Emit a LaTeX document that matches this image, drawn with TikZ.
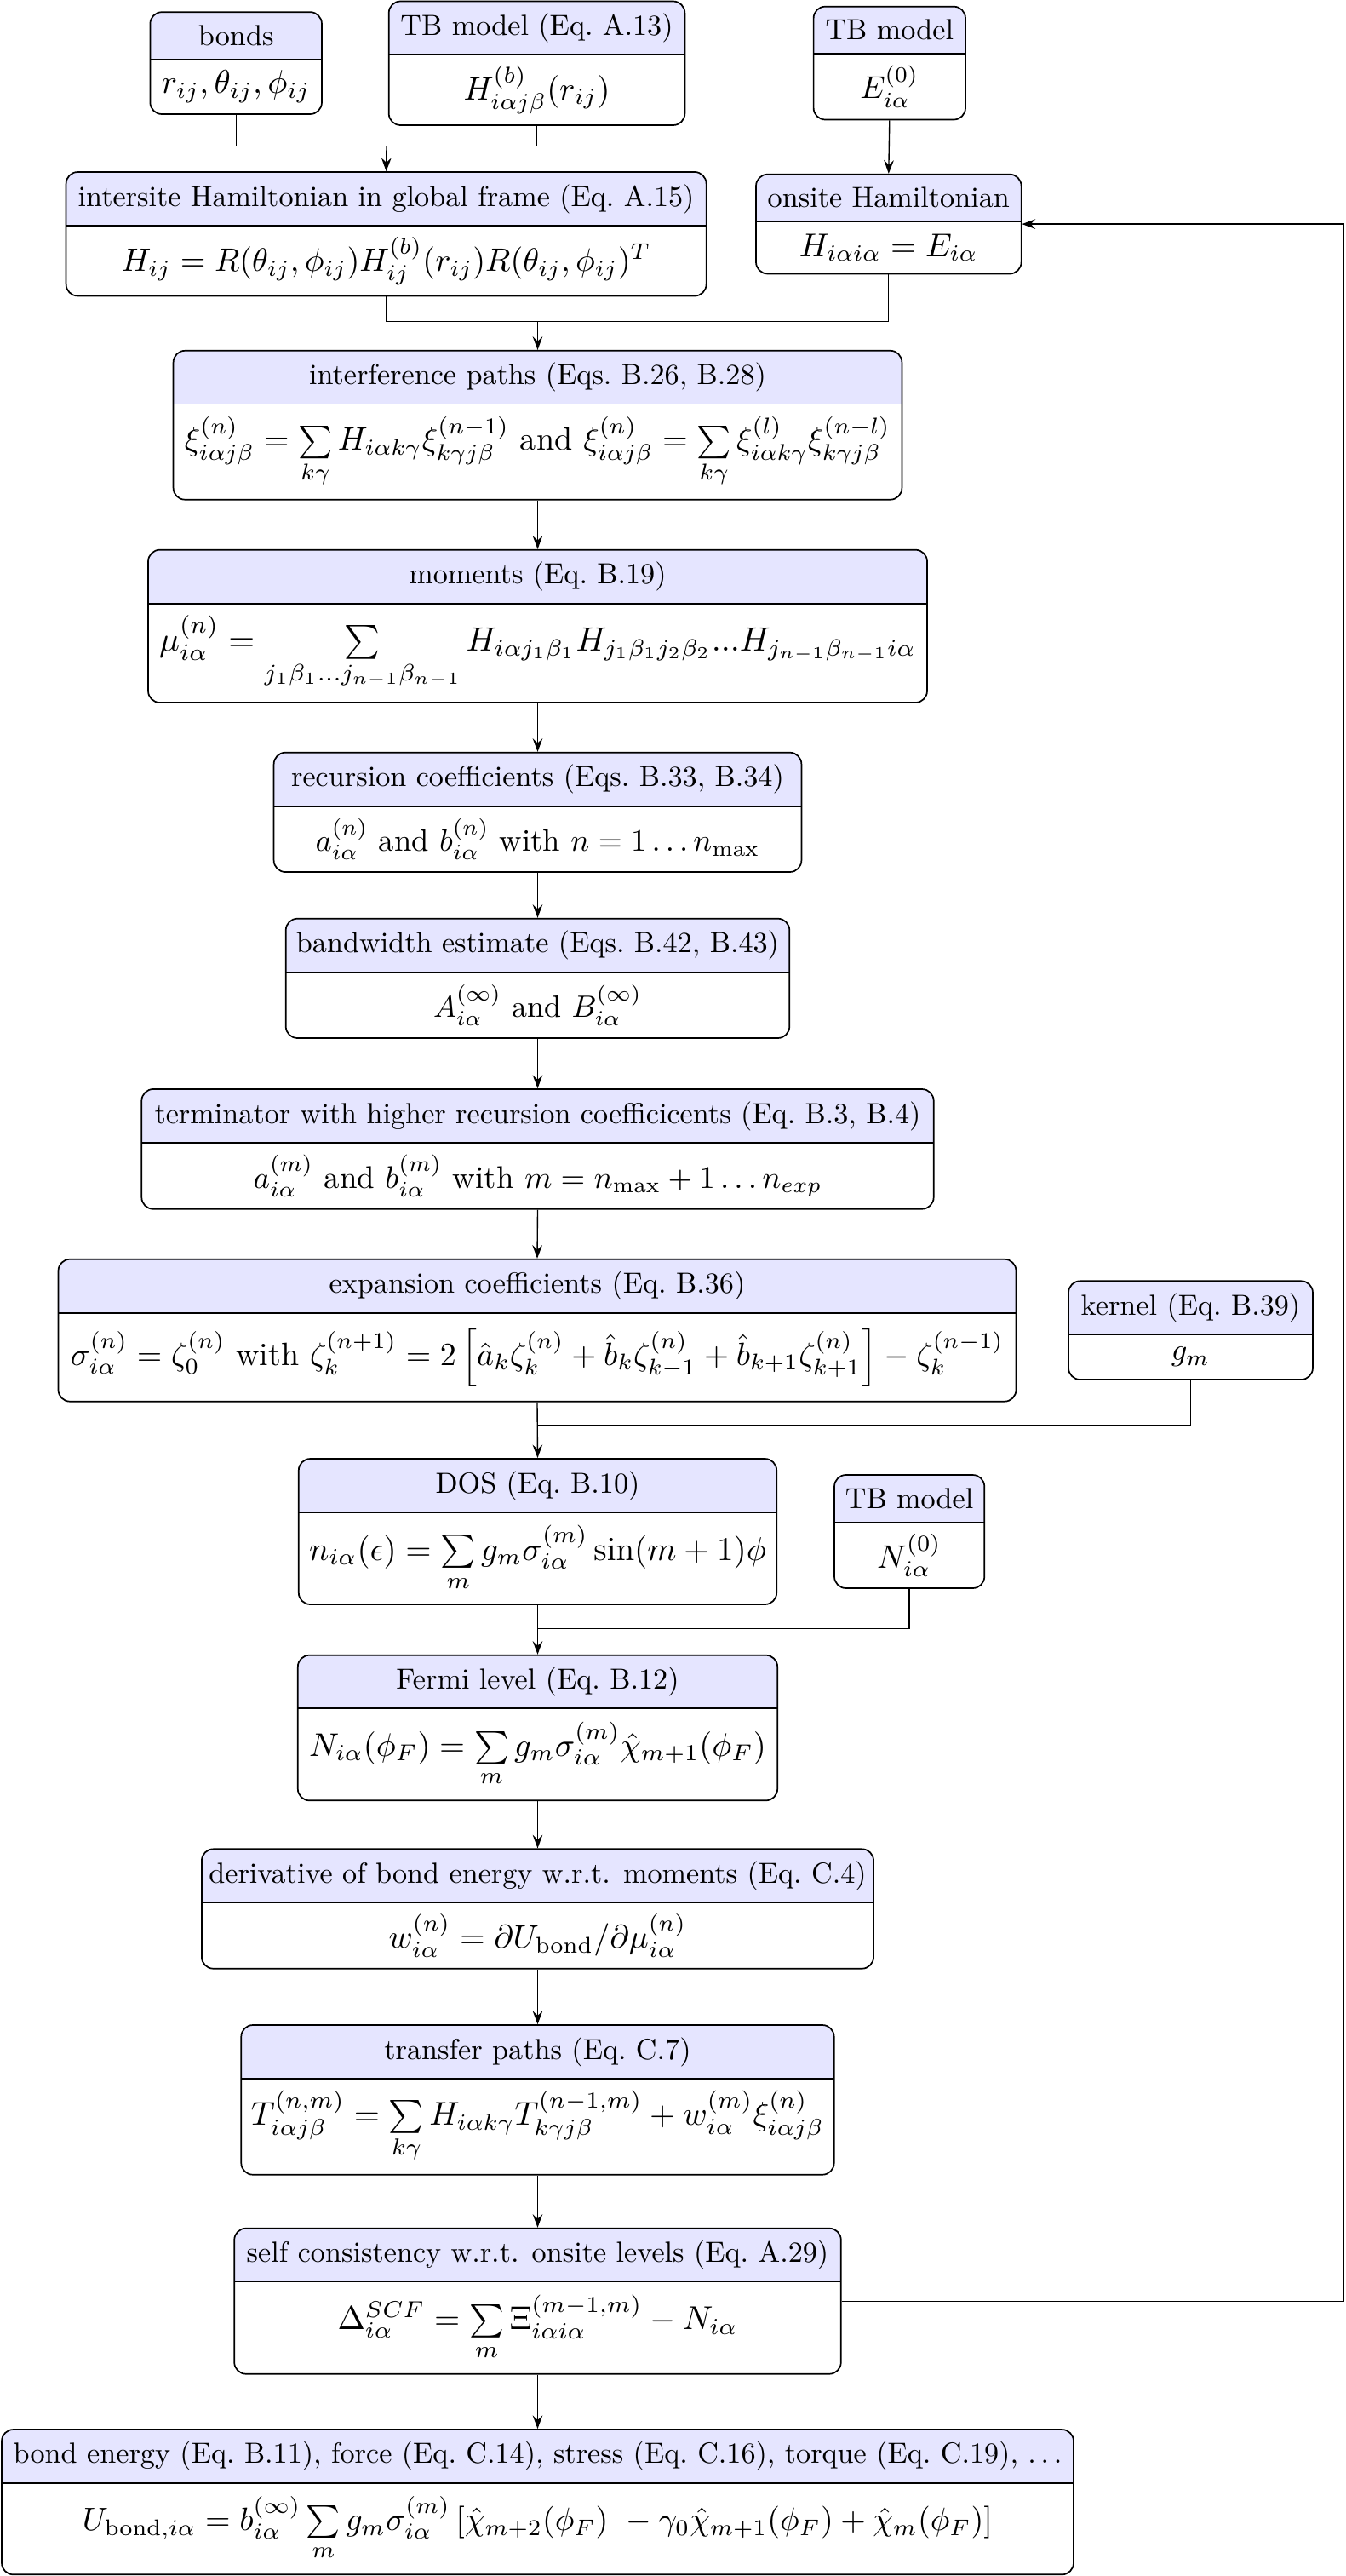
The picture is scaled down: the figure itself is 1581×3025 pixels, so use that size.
\documentclass[tikz,border=0pt]{standalone}
\usepackage{graphicx}
\usetikzlibrary{arrows.meta,fit,calc}
\definecolor{headfill}{rgb}{0.9,0.9,1}
\tikzset{
  boxframe/.style={draw, line width=0.5pt, rounded corners=4pt, inner sep=0pt},
  boxline/.style={draw, line width=0.5pt},
  boxtext/.style={inner sep=0pt, align=center},
  conn/.style={draw, line width=0.4pt},
  arr/.style={conn, -{Stealth[length=4.6pt, width=3.4pt, inset=1.6pt]}},
}
\newcommand{\fitw}[2]{\resizebox{#1pt}{!}{#2}}
\newcommand{\flowbox}[8]{%
  \begin{scope}
    \clip[rounded corners=4pt] (#2,#4) rectangle (#3,#6);
    \fill[headfill] (#2,#4) rectangle (#3,#5);
  \end{scope}
  \draw[boxline] (#2,#5) -- (#3,#5);
  \node[boxframe, fit={(#2,#4) (#3,#6)}] (#1) {};
  \node[boxtext] (#1-head) at ($(#2,#4)!0.5!(#3,#5)$) {#7};
  \node[boxtext] (#1-body) at ($(#2,#5)!0.5!(#3,#6)$) {#8};
}
\begin{document}
\begin{tikzpicture}[x=0.2924pt, y=-0.2924pt]
\useasboundingbox (0,0) rectangle (1581,3025);

\flowbox{bonds}{176.4}{378}{14.2}{69.7}{134}{bonds}{\fitw{51.2}{$r_{ij},\theta_{ij},\phi_{ij}$}}
\flowbox{tbA}{456.7}{804.4}{1.5}{63.9}{147}{TB model (Eq.~A.13)}{\fitw{50.3}{$H^{(b)}_{i\alpha j\beta}(r_{ij})$}}
\flowbox{tbE}{955.6}{1134}{7.7}{62.8}{140.5}{TB model}{\fitw{20.2}{$E^{(0)}_{i\alpha}$}}
\flowbox{inter}{77.6}{829.6}{202}{265.2}{347.5}{intersite Hamiltonian in global frame (Eq.~A.15)}{\fitw{181.9}{$H_{ij} = R(\theta_{ij},\phi_{ij})H^{(b)}_{ij}(r_{ij})R(\theta_{ij},\phi_{ij})^T$}}
\flowbox{onsite}{888}{1199.6}{204.7}{259.9}{321.5}{onsite Hamiltonian}{\fitw{61.4}{$H_{i\alpha i\alpha} = E_{i\alpha}$}}
\flowbox{interf}{203.6}{1059.4}{411.8}{474.6}{586.7}{interference paths (Eqs.~B.26, B.28)}{\fitw{242.4}{$\xi^{(n)}_{i\alpha j\beta} = \sum\limits_{k\gamma} H_{i\alpha k\gamma}\xi^{(n-1)}_{k\gamma j\beta}$ and $\xi^{(n)}_{i\alpha j\beta} = \sum\limits_{k\gamma}\xi^{(l)}_{i\alpha k\gamma}\xi^{(n-l)}_{k\gamma j\beta}$}}
\flowbox{moments}{174}{1089}{645.7}{708.7}{825}{moments (Eq.~B.19)}{\fitw{259.9}{$\mu^{(n)}_{i\alpha} = \sum\limits_{j_1\beta_1...j_{n-1}\beta_{n-1}} H_{i\alpha j_1\beta_1}H_{j_1\beta_1 j_2\beta_2}...H_{j_{n-1}\beta_{n-1}i\alpha}$}}
\flowbox{recur}{321.6}{941.4}{883.7}{947}{1024}{recursion coefficients (Eqs.~B.33, B.34)}{\fitw{152.6}{$a^{(n)}_{i\alpha}$ and $b^{(n)}_{i\alpha}$ with $n=1\ldots n_{\max}$}}
\flowbox{bandw}{335.7}{927.3}{1078.7}{1141.7}{1219}{bandwidth estimate (Eqs.~B.42, B.43)}{\fitw{71.6}{$A^{(\infty)}_{i\alpha}$ and $B^{(\infty)}_{i\alpha}$}}
\flowbox{term}{166.3}{1096.7}{1279}{1342.3}{1419.7}{terminator with higher recursion coefficicents (Eq.~B.3, B.4)}{\fitw{195.3}{$a^{(m)}_{i\alpha}$ and $b^{(m)}_{i\alpha}$ with $m = n_{\max}+1\ldots n_{exp}$}}
\flowbox{expan}{68.5}{1193.5}{1478.7}{1541.7}{1645.7}{expansion coefficients (Eq.~B.36)}{\fitw{320.5}{$\sigma^{(n)}_{i\alpha} = \zeta^{(n)}_0$ with $\zeta^{(n+1)}_k = 2\left[\hat a_k\zeta^{(n)}_k + \hat b_k\zeta^{(n)}_{k-1} + \hat b_{k+1}\zeta^{(n)}_{k+1}\right] - \zeta^{(n-1)}_k$}}
\flowbox{kernel}{1255}{1542}{1504.3}{1567.3}{1620}{kernel (Eq.~B.39)}{\fitw{13.2}{$g_m$}}
\flowbox{dos}{350.8}{912.2}{1713}{1776.3}{1884}{DOS (Eq.~B.10)}{\fitw{157}{$n_{i\alpha}(\epsilon) = \sum\limits_m g_m\sigma^{(m)}_{i\alpha}\sin(m+1)\phi$}}
\flowbox{tbN}{980}{1156.3}{1732}{1787.7}{1865}{TB model}{\fitw{22.2}{$N^{(0)}_{i\alpha}$}}
\flowbox{fermi}{349.8}{913.2}{1943.7}{2006.3}{2114.3}{Fermi level (Eq.~B.12)}{\fitw{157}{$N_{i\alpha}(\phi_F) = \sum\limits_m g_m\sigma^{(m)}_{i\alpha}\hat\chi_{m+1}(\phi_F)$}}
\flowbox{deriv}{236.9}{1026.1}{2171.3}{2234.3}{2311.7}{derivative of bond energy w.r.t. moments (Eq.~C.4)}{\fitw{102.3}{$w^{(n)}_{i\alpha} = \partial U_{\mathrm{bond}}/\partial\mu^{(n)}_{i\alpha}$}}
\flowbox{transfer}{283.3}{979.7}{2378}{2441}{2553.7}{transfer paths (Eq.~C.7)}{\fitw{196.8}{$T^{(n,m)}_{i\alpha j\beta} = \sum\limits_{k\gamma} H_{i\alpha k\gamma}T^{(n-1,m)}_{k\gamma j\beta} + w^{(m)}_{i\alpha}\xi^{(n)}_{i\alpha j\beta}$}}
\flowbox{selfc}{275.2}{987.8}{2616.7}{2679.3}{2787.7}{self consistency w.r.t. onsite levels (Eq.~A.29)}{\fitw{137.4}{$\Delta^{SCF}_{i\alpha} = \sum\limits_m \Xi^{(m-1,m)}_{i\alpha i\alpha} - N_{i\alpha}$}}
\flowbox{bonden}{2}{1261}{2853}{2915.7}{3023.3}{bond energy (Eq.~B.11), force (Eq.~C.14), stress (Eq.~C.16), torque (Eq.~C.19), $\ldots$}{\fitw{312.6}{$U_{\mathrm{bond},i\alpha} = b^{(\infty)}_{i\alpha}\sum\limits_m g_m\sigma^{(m)}_{i\alpha}\,[\hat\chi_{m+2}(\phi_F)\ -\gamma_0\hat\chi_{m+1}(\phi_F) + \hat\chi_m(\phi_F)]$}}

% junctions
\coordinate (j1) at (454,171.5);
\coordinate (j2) at (631.5,377.7);
\coordinate (j3) at (631.5,1674);
\coordinate (j4) at (631.5,1912.7);
\coordinate (fb) at (1578.6,0);

\draw[conn] (bonds.south) |- (j1) -| (tbA.south);
\draw[arr] (j1) -- (inter.north);
\draw[arr] (tbE.south) -- (onsite.north);
\draw[conn] (inter.south) |- (j2) -| (onsite.south);
\draw[arr] (j2) -- (interf.north);
\draw[arr] (interf.south) -- (moments.north);
\draw[arr] (moments.south) -- (recur.north);
\draw[arr] (recur.south) -- (bandw.north);
\draw[arr] (bandw.south) -- (term.north);
\draw[arr] (term.south) -- (expan.north);
\draw[arr] (expan.south) -- (dos.north);
\draw[conn] (kernel.south) |- (j3);
\draw[arr] (dos.south) -- (fermi.north);
\draw[conn] (tbN.south) |- (j4);
\draw[arr] (fermi.south) -- (deriv.north);
\draw[arr] (deriv.south) -- (transfer.north);
\draw[arr] (transfer.south) -- (selfc.north);
\draw[arr] (selfc.south) -- (bonden.north);
\draw[arr] (selfc.east) -- (selfc.east -| fb) -- (fb |- onsite.east) -- (onsite.east);
\end{tikzpicture}
\end{document}
